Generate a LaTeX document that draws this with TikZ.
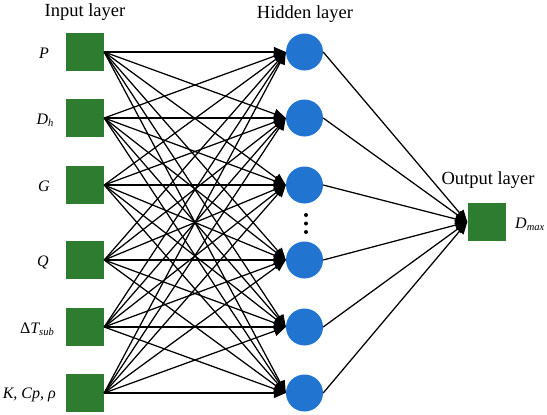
\documentclass[tikz,border=0pt]{standalone}
\usepackage{fontspec}
\setmainfont{Liberation Serif}
\usetikzlibrary{arrows.meta}
\definecolor{sqgreen}{RGB}{46,124,48}
\definecolor{cblue}{RGB}{33,116,208}
\tikzset{
  insq/.style={rectangle, fill=sqgreen, minimum width=38pt, minimum height=38pt, inner sep=0pt},
  hid/.style={circle, fill=cblue, minimum size=37pt, inner sep=0pt},
  conn/.style={line width=1.25pt, -{Triangle[length=12pt,width=10pt]}},
  lbl/.style={font=\fontsize{16}{18}\selectfont\itshape, inner sep=0pt},
  title/.style={font=\fontsize{18.5}{21}\selectfont, inner sep=0pt},
  dotm/.style={circle, fill=black, minimum size=4pt, inner sep=0pt}
}
\begin{document}
\begin{tikzpicture}[x=1pt,y=-1pt]
\useasboundingbox (0,0) rectangle (547,415);
% titles
\node[title] (tin) at (85,12) {Input layer};
\node[title] (thid) at (305,14) {Hidden layer};
\node[title] (tout) at (488,180) {Output layer};
% input squares and hidden neurons
\foreach \i/\y in {1/52,2/118,3/185,4/260,5/327,6/393}{
  \node[insq] (i\i) at (85,\y) {};
  \node[hid] (h\i) at (304.5,\y) {};
}
\node[insq] (o) at (486.5,222) {};
% labels
\node[lbl] (l1) at (44,53) {P};
\node[lbl] (l2) at (45,120) {D\raisebox{-0.3ex}{\fontsize{10.5}{10.5}\selectfont h}};
\node[lbl] (l3) at (44,186) {G};
\node[lbl] (l4) at (43,262) {Q};
\node[lbl, anchor=east] (l5) at (54,329) {\upshape Δ\itshape T\raisebox{-0.3ex}{\fontsize{10.5}{10.5}\selectfont sub}};
\node[lbl, anchor=east] (l6) at (56,395) {K, Cp, ρ};
\node[lbl, anchor=west] (lo) at (515,224) {D\raisebox{-0.3ex}{\fontsize{10.5}{10.5}\selectfont max}};
% dots
\node[dotm] (d1) at (306,215) {};
\node[dotm] (d2) at (306,223.5) {};
\node[dotm] (d3) at (306,232) {};
% connections
\foreach \i in {1,...,6}{
  \foreach \j in {1,...,6}{
    \draw[conn] (i\i.east) -- (h\j.west);
  }
  \draw[conn] (h\i.east) -- (o.west);
}
\end{tikzpicture}
\end{document}
